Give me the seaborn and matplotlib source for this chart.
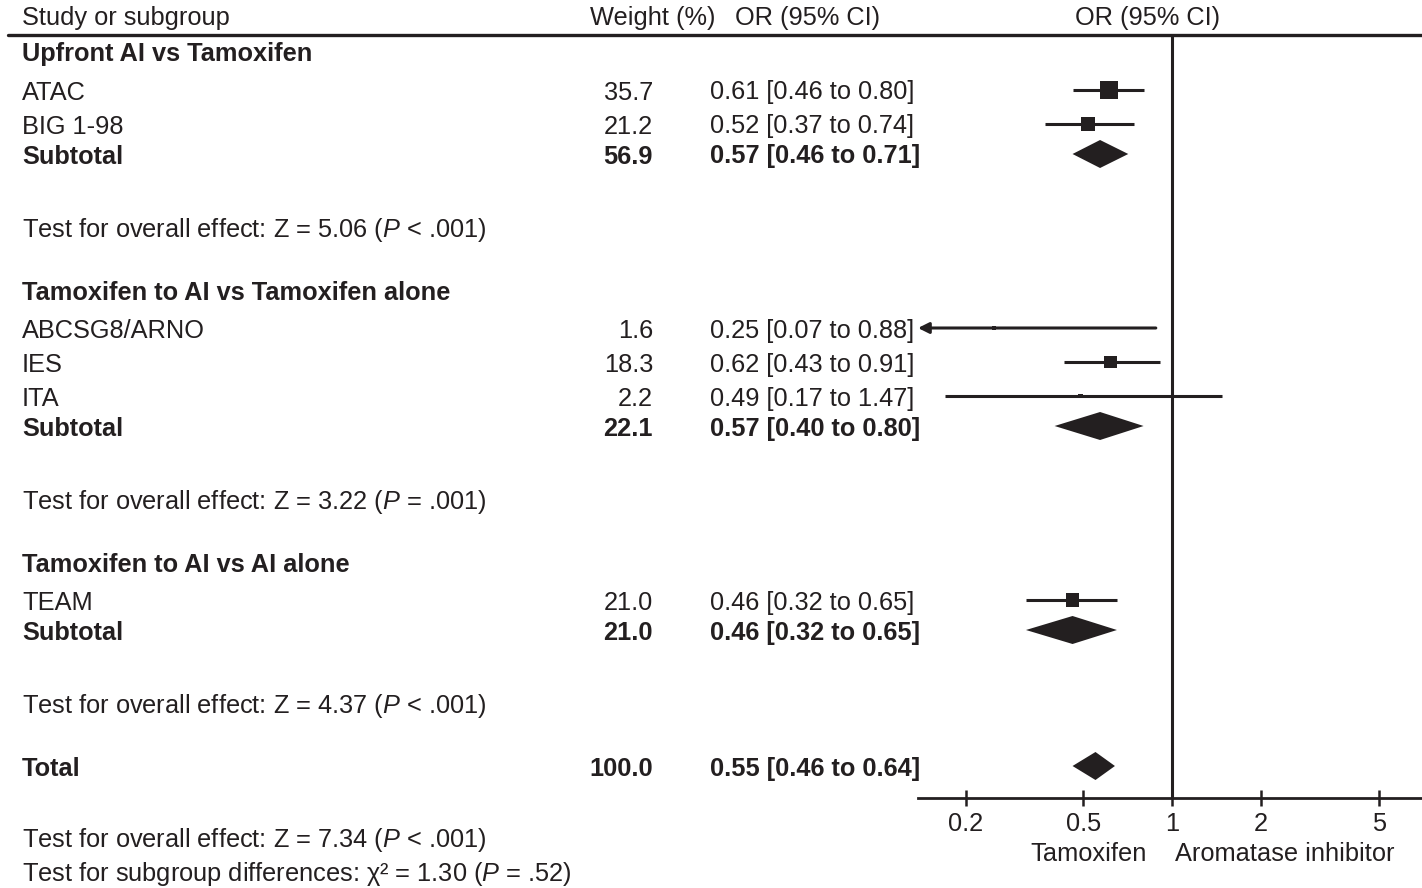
import numpy as np
import seaborn as sns
import matplotlib.pyplot as plt
from matplotlib.lines import Line2D
from matplotlib.transforms import blended_transform_factory

# data
group_names = ["Upfront AI vs Tamoxifen",
               "Tamoxifen to AI vs Tamoxifen alone",
               "Tamoxifen to AI vs AI alone"]
study_names = ["ATAC", "BIG 1-98", "ABCSG8/ARNO", "IES", "ITA", "TEAM"]
study_group = [0, 0, 1, 1, 1, 2]
study_weight = [35.7, 21.2, 1.6, 18.3, 2.2, 21.0]
study_or = [0.61, 0.52, 0.25, 0.62, 0.49, 0.46]
study_lo = [0.46, 0.37, 0.07, 0.43, 0.17, 0.32]
study_hi = [0.80, 0.74, 0.88, 0.91, 1.47, 0.65]
sub_weight = [56.9, 22.1, 21.0]
sub_or = [0.57, 0.57, 0.46]
sub_lo = [0.46, 0.40, 0.32]
sub_hi = [0.71, 0.80, 0.65]
sub_z = [5.06, 3.22, 4.37]
sub_p = ["< .001", "= .001", "< .001"]
total_weight = 100.0
total_or, total_lo, total_hi = 0.55, 0.46, 0.64
total_z, total_p = 7.34, "< .001"
chi2, chi2_p = 1.30, "= .52"
xticks = [0.2, 0.5, 1, 2, 5]
xtick_labels = ["0.2", "0.5", "1", "2", "5"]

INK = "#231f20"
FS = 18.3

sns.set_theme(style="white")
plt.rcParams['font.family'] = ['Liberation Sans', 'DejaVu Sans']
plt.rcParams['mathtext.fontset'] = 'custom'
plt.rcParams['mathtext.it'] = 'Liberation Sans:italic'
plt.rcParams['mathtext.rm'] = 'Liberation Sans'

fig = plt.figure(figsize=(14.22, 8.88), dpi=100)
ax = fig.add_axes([918 / 1422, 1 - 798 / 888, 504 / 1422, (798 - 35) / 888])
ax.set_xscale("log")
ax.set_xlim(0.138, 7.0)
ax.set_ylim(798, 35)

# row layout (vertical gaps in pixels)
rows = []  # (y, kind, index)
y = 52
for g in range(len(group_names)):
    rows.append((y, "group", g))
    y += 38
    idx = [i for i, s in enumerate(study_group) if s == g]
    for k, i in enumerate(idx):
        rows.append((y, "study", i))
        y += 34 if k < len(idx) - 1 else 30
    rows.append((y, "sub", g))
    y += 73
    rows.append((y, "test", g))
    y += 63
rows.append((y, "total", 0))

tf = blended_transform_factory(fig.transFigure, ax.transData)
X_NAME, X_W, X_OR = 22 / 1422, 653 / 1422, 710 / 1422
TXT_SHIFT = 2.5  # text sits slightly lower than the marks


def txt(x, yy, s, ha="left", bold=False):
    ax.text(x, yy + TXT_SHIFT, s, transform=tf, ha=ha, va="center", fontsize=FS,
            color=INK, fontweight="bold" if bold else "normal", clip_on=False)


def ci_text(o, lo, hi):
    return f"{o:.2f} [{lo:.2f} to {hi:.2f}]"


# header
txt(X_NAME, 16, "Study or subgroup")
txt(590 / 1422, 16, "Weight (%)")
txt(735 / 1422, 16, "OR (95% CI)")
txt(1148 / 1422, 16, "OR (95% CI)", ha="center")
fig.add_artist(Line2D([8 / 1422, 1], [35, 35], transform=tf, color=INK, lw=2.4))

study_y = [0.0] * len(study_names)
sub_y = [0.0] * len(group_names)
for yy, kind, i in rows:
    if kind == "group":
        txt(X_NAME, yy, group_names[i], bold=True)
    elif kind == "study":
        study_y[i] = yy
        txt(X_NAME, yy, study_names[i])
        txt(X_W, yy, f"{study_weight[i]:.1f}", ha="right")
        txt(X_OR, yy, ci_text(study_or[i], study_lo[i], study_hi[i]))
    elif kind == "sub":
        sub_y[i] = yy
        txt(X_NAME, yy, "Subtotal", bold=True)
        txt(X_W, yy, f"{sub_weight[i]:.1f}", ha="right", bold=True)
        txt(X_OR, yy, ci_text(sub_or[i], sub_lo[i], sub_hi[i]), bold=True)
    elif kind == "test":
        txt(X_NAME, yy, f"Test for overall effect: Z = {sub_z[i]:.2f} ($\\mathit{{P}}$ {sub_p[i]})")
    else:
        total_y = yy
        txt(X_NAME, yy, "Total", bold=True)
        txt(X_W, yy, f"{total_weight:.1f}", ha="right", bold=True)
        txt(X_OR, yy, ci_text(total_or, total_lo, total_hi), bold=True)

txt(X_NAME, 837, f"Test for overall effect: Z = {total_z:.2f} ($\\mathit{{P}}$ {total_p})")
txt(X_NAME, 871, f"Test for subgroup differences: χ² = {chi2:.2f} ($\\mathit{{P}}$ {chi2_p})")

# confidence intervals
xmin = ax.get_xlim()[0]
for i in range(len(study_names)):
    if study_lo[i] < xmin:
        ax.annotate("", xy=(xmin, study_y[i]), xytext=(study_hi[i], study_y[i]),
                    arrowprops=dict(arrowstyle="-|>", color=INK, lw=2.2,
                                    mutation_scale=16, shrinkA=0, shrinkB=0))
    else:
        ax.plot([study_lo[i], study_hi[i]], [study_y[i], study_y[i]],
                color=INK, lw=2.2, solid_capstyle="butt")

# weighted squares (area proportional to weight)
k = 4.67
sns.scatterplot(x=study_or, y=study_y, size=study_weight,
                sizes=(k * min(study_weight), k * max(study_weight)),
                marker="s", color=INK, edgecolor=INK, linewidth=0,
                legend=False, ax=ax, zorder=3)

# diamonds
half_h = 14
for o, lo, hi, yy in list(zip(sub_or, sub_lo, sub_hi, sub_y)) + [(total_or, total_lo, total_hi, total_y)]:
    ax.fill([lo, o, hi, o], [yy, yy - half_h, yy, yy + half_h], color=INK, lw=0, zorder=3)

ax.axvline(1, color=INK, lw=2.2, zorder=1)

# axis styling
for s in ["top", "right", "left"]:
    ax.spines[s].set_visible(False)
ax.spines["bottom"].set_color(INK)
ax.spines["bottom"].set_linewidth(2.0)
ax.set_yticks([])
ax.set_xticks(xticks)
ax.set_xticklabels(xtick_labels)
ax.xaxis.set_minor_locator(plt.NullLocator())
ax.tick_params(axis="x", direction="inout", length=12, width=1.8, colors=INK,
               labelsize=FS, pad=4, bottom=True)
ax.set_xlabel("")
ax.set_ylabel("")

ax.annotate("Tamoxifen", xy=(1, 0), xycoords=("data", "axes fraction"),
            xytext=(-18, -40), textcoords="offset points", ha="right", va="center",
            fontsize=FS, color=INK)
ax.annotate("Aromatase inhibitor", xy=(1, 0), xycoords=("data", "axes fraction"),
            xytext=(2, -40), textcoords="offset points", ha="left", va="center",
            fontsize=FS, color=INK)

fig.savefig("out.png", dpi=100, facecolor="white")
